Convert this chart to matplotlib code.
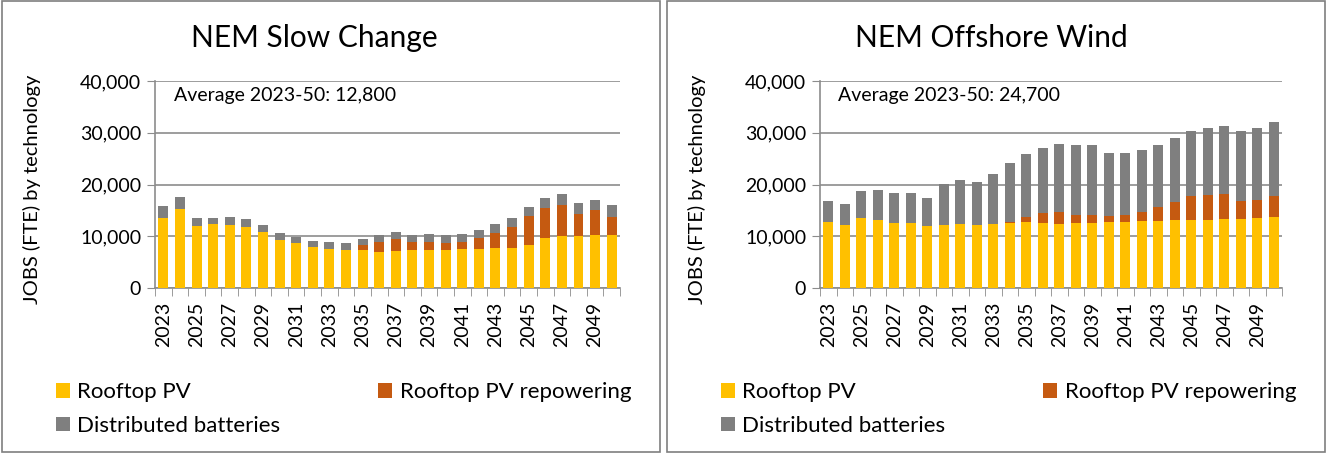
import matplotlib.pyplot as plt
import matplotlib.patches as mpatches
import numpy as np

plt.rcParams['font.family'] = ['Lato', 'DejaVu Sans']

years = list(range(2023, 2051))

# NEM Slow Change
slow_pv = [13500, 15300, 12000, 12400, 12200, 11800, 10800, 9300, 8700, 7900,
           7600, 7400, 7400, 7000, 7200, 7400, 7400, 7400, 7600, 7600,
           7800, 7800, 8300, 9700, 10100, 10100, 10300, 10300]
slow_repower = [0, 0, 0, 0, 0, 0, 0, 0, 0, 0,
                0, 0, 900, 1900, 2200, 1400, 1500, 1300, 1200, 2000,
                2800, 3900, 5600, 5700, 5900, 4200, 4800, 3500]
slow_batt = [2300, 2200, 1500, 1100, 1600, 1500, 1300, 1300, 1200, 1100,
             1200, 1300, 1100, 1300, 1400, 1400, 1500, 1500, 1600, 1600,
             1700, 1800, 1700, 1900, 2100, 2100, 2000, 2200]

# NEM Offshore Wind
off_pv = [12800, 12200, 13500, 13200, 12600, 12600, 11900, 12100, 12400, 12100,
          12400, 12600, 12800, 12600, 12400, 12600, 12600, 12800, 12800, 13000,
          13000, 13200, 13200, 13200, 13400, 13400, 13600, 13800]
off_repower = [0, 0, 0, 0, 0, 0, 0, 0, 0, 0,
               0, 200, 900, 1800, 2200, 1500, 1500, 1100, 1300, 1700,
               2600, 3500, 4600, 4800, 4800, 3500, 3500, 4000]
off_batt = [4100, 4000, 5300, 5800, 5800, 5800, 5500, 8000, 8400, 8400,
            9700, 11400, 12200, 12700, 13200, 13500, 13500, 12200, 12000, 12000,
            12000, 12300, 12500, 12900, 13100, 13400, 13800, 14300]

titles = ['NEM Slow Change', 'NEM Offshore Wind']
averages = ['Average 2023-50: 12,800', 'Average 2023-50: 24,700']
labels = ['Rooftop PV', 'Rooftop PV repowering', 'Distributed batteries']
colors = ['#FFC000', '#C55A11', '#7F7F7F']

grid_c = '#8C8C8C'

fig = plt.figure(figsize=(13.27, 4.53), dpi=100)

# panel borders
for x0 in [0.0015, 0.5027]:
    fig.add_artist(mpatches.Rectangle((x0, 0.003), 0.4958, 0.994, transform=fig.transFigure,
                                      fill=False, edgecolor='#7F7F7F', linewidth=1.2))

panels = [
    (slow_pv, slow_repower, slow_batt),
    (off_pv, off_repower, off_batt),
]
ax_lefts = [155 / 1327, 820 / 1327]
ax_widths = [465 / 1327, 462 / 1327]
title_x = [314 / 1327, 991 / 1327]
ylabel_x = [32 / 1327, 697 / 1327]
legend_x = [56 / 1327, 721 / 1327]

x = np.arange(len(years))
for i, (pv, rep, bat) in enumerate(panels):
    ax = fig.add_axes([ax_lefts[i], 165 / 453, ax_widths[i], 207 / 453])
    pv = np.array(pv)
    rep = np.array(rep)
    bat = np.array(bat)
    ax.bar(x, pv, width=0.6, color=colors[0], label=labels[0], zorder=3)
    ax.bar(x, rep, width=0.6, bottom=pv, color=colors[1], label=labels[1], zorder=3)
    ax.bar(x, bat, width=0.6, bottom=pv + rep, color=colors[2], label=labels[2], zorder=3)

    ax.set_xlim(-0.5, len(years) - 0.5)
    ax.set_ylim(0, 40000)
    ax.set_yticks([0, 10000, 20000, 30000, 40000])
    ax.set_yticklabels(['{:,}'.format(v) for v in [0, 10000, 20000, 30000, 40000]])
    ax.yaxis.grid(True, color=grid_c, linewidth=1.2, zorder=0)
    ax.set_axisbelow(True)

    ax.set_xticks(x[::2])
    ax.set_xticklabels([str(y) for y in years[::2]], rotation=90)
    ax.set_xticks(np.arange(-0.5, len(years)), minor=True)
    ax.tick_params(axis='x', which='major', length=0, pad=10, labelsize=14)
    ax.tick_params(axis='x', which='minor', length=6, color=grid_c)
    ax.tick_params(axis='y', length=6, color=grid_c, labelsize=14, pad=4)

    for s in ['top', 'right']:
        ax.spines[s].set_visible(False)
    for s in ['left', 'bottom']:
        ax.spines[s].set_color(grid_c)
        ax.spines[s].set_linewidth(1.2)

    ax.text(0.04, 0.93, averages[i], transform=ax.transAxes, fontsize=14, va='center', ha='left')
    fig.text(title_x[i], 0.916, titles[i], fontsize=21.5, ha='center', va='center')
    fig.text(ylabel_x[i], (453 - 189) / 453, 'JOBS (FTE) by technology', rotation=90,
             fontsize=14.5, ha='center', va='center')

    h, l = ax.get_legend_handles_labels()
    order = [0, 2, 1]
    fig.legend([h[k] for k in order], [l[k] for k in order], ncol=2,
               loc='upper left', bbox_to_anchor=(legend_x[i], (453 - 382) / 453),
               frameon=False, fontsize=16, handlelength=0.64, handleheight=0.64,
               handletextpad=0.32, columnspacing=4.4, labelspacing=0.62,
               borderaxespad=0, borderpad=0)

fig.savefig('out.png', dpi=100)
